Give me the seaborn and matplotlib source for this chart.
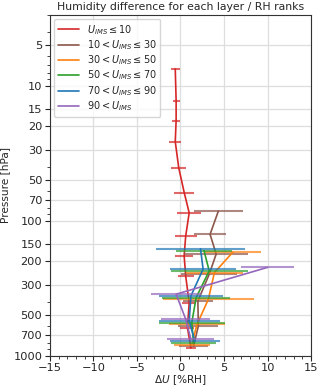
import numpy as np
import pandas as pd
import matplotlib
matplotlib.use("Agg")
import matplotlib.pyplot as plt
import matplotlib.ticker as mticker
import seaborn as sns

# pressure levels (hPa) of the layers
levels = [7.5, 12.9, 18.2, 26, 40.6, 62, 87.5, 130, 182, 257, 406, 622, 877]

labels = [r"$U_{IMS} \leq 10$",
          r"$10 < U_{IMS} \leq 30$",
          r"$30 < U_{IMS} \leq 50$",
          r"$50 < U_{IMS} \leq 70$",
          r"$70 < U_{IMS} \leq 90$",
          r"$90 < U_{IMS}$"]
colors = ["tab:red", "tab:brown", "tab:orange", "tab:green", "tab:blue", "tab:purple"]

# mean difference and spread per rank (each rank covers the lowest levels)
red_mean = [-0.6, -0.5, -0.5, -0.6, -0.2, 0.43, 1.0, 0.6, 0.42, 0.6, 1.0, 0.8, 1.2]
red_err = [0.54, 0.4, 0.46, 0.7, 0.84, 1.17, 1.4, 1.26, 1.05, 0.9, 0.8, 0.8, 0.6]
brown_mean = [4.35, 3.4, 4.1, 3.3, 2.0, 2.05, 1.5]
brown_err = [2.8, 1.8, 3.7, 3.2, 1.7, 2.3, 1.7]
orange_mean = [6.0, 3.9, 3.2, 1.9, 1.3]
orange_err = [3.3, 3.3, 5.2, 3.2, 2.1]
green_mean = [2.7, 3.3, 1.8, 1.3, 1.5]
green_err = [3.25, 4.4, 3.9, 3.8, 2.6]
blue_mean = [2.3, 2.6, 1.2, 1.0, 1.65]
blue_err = [5.1, 3.8, 3.7, 3.5, 2.9]
purple_mean = [10.0, -0.5, 0.6, 1.2]
purple_err = [3.0, 2.9, 2.8, 2.7]

means = [red_mean, brown_mean, orange_mean, green_mean, blue_mean, purple_mean]
errs = [red_err, brown_err, orange_err, green_err, blue_err, purple_err]

sns.set_style("ticks")
plt.rcParams["font.family"] = ["DejaVu Sans"]
plt.rcParams["font.size"] = 7.6

fig = plt.figure(figsize=(3.2, 3.87), dpi=100)
ax = fig.add_axes([0.156, 0.081, 0.816, 0.880])

for k, (m, e) in enumerate(zip(means, errs)):
    lev = np.array(levels[len(levels) - len(m):]) * 0.971 ** k
    df = pd.DataFrame({"p": lev, "d": m})
    ax.errorbar(m, lev, xerr=e, fmt="none", ecolor=colors[k], elinewidth=1.5,
                alpha=0.7, capsize=0)
    sns.lineplot(data=df, x="d", y="p", orient="y", sort=False, color=colors[k],
                 lw=1.2, label=labels[k], ax=ax)

ax.set_yscale("log")
ax.set_ylim(1000, 3)
yt = [5, 10, 15, 20, 30, 50, 70, 100, 150, 200, 300, 500, 700, 1000]
ax.set_yticks(yt)
ax.yaxis.set_major_formatter(mticker.FixedFormatter([str(v) for v in yt]))
ax.yaxis.set_minor_formatter(mticker.NullFormatter())
ax.set_xlim(-15, 15)
ax.set_xticks([-15, -10, -5, 0, 5, 10, 15])
ax.xaxis.set_minor_locator(mticker.MultipleLocator(1))
ax.grid(True, color="0.87", lw=0.9)
ax.tick_params(labelsize=8.2, pad=2)
for s in ax.spines.values():
    s.set_color("0.2")

ax.set_xlabel(r"$\Delta U$ [%RH]", fontsize=7.6, labelpad=0)
ax.set_ylabel("Pressure [hPa]", fontsize=7.6, labelpad=2)
ax.set_title("Humidity difference for each layer / RH ranks", fontsize=7.8, pad=4)
ax.legend(loc="upper left", fontsize=7.0, labelspacing=0.15, borderpad=0.4,
          handlelength=2.2, borderaxespad=0.4)

fig.savefig("out.png", dpi=100)
